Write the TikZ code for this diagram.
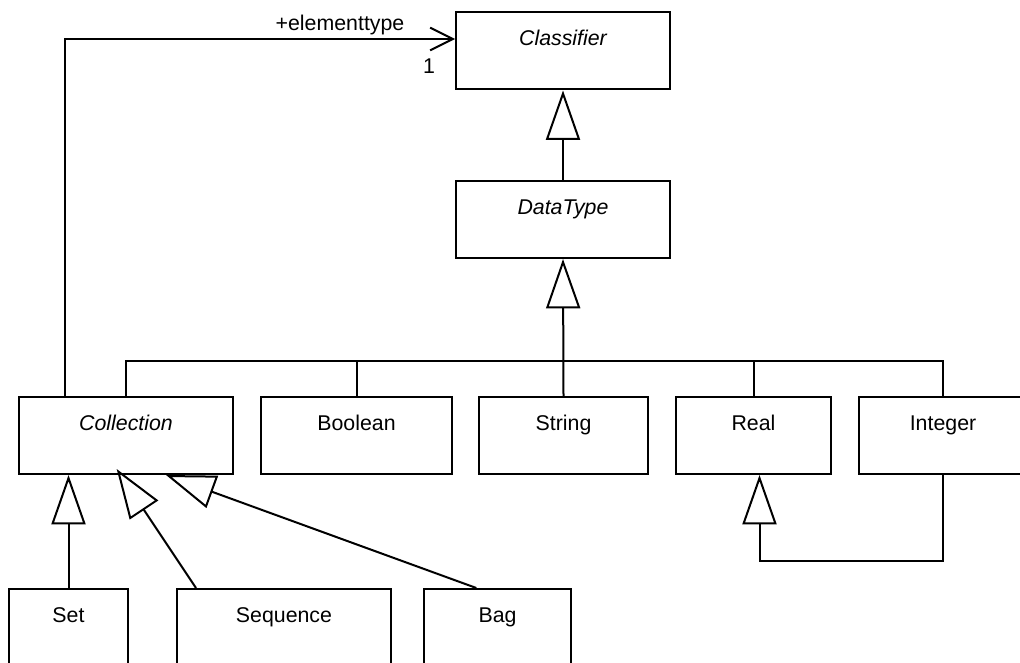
\documentclass[tikz,border=0pt]{standalone}
\usepackage{fontspec}
\setmainfont{Liberation Sans}
\usetikzlibrary{arrows.meta}
\begin{document}
\begin{tikzpicture}[x=0.75pt,y=-0.75pt,
  line width=1.5pt,
  umlclass/.style={draw, rectangle, line width=1.5pt, inner sep=0pt,
    minimum height=57.75pt, text height=12pt, text depth=20.25pt,
    font=\fontsize{16}{19}\selectfont},
  abstract/.style={umlclass, font=\fontsize{16}{19}\selectfont\itshape},
  gen/.style={-{Triangle[open, length=37pt, width=25.5pt]}, line join=miter},
  assoc/.style={-{Straight Barb[length=17pt, width=17pt]}},
  rolelabel/.style={anchor=base, inner sep=0pt, font=\fontsize{16}{19}\selectfont}]
\clip (0,0) rectangle (1020,663);

% classes
\node[abstract, minimum width=160.5pt] (Classifier) at (563,51) {Classifier};
\node[abstract, minimum width=160.5pt] (DataType) at (563,219.5) {DataType};
\node[abstract, minimum width=160.5pt] (Collection) at (126,435.5) {Collection};
\node[umlclass, minimum width=143.25pt] (Boolean) at (356.5,435.5) {Boolean};
\node[umlclass, minimum width=126.75pt] (String) at (563.5,435.5) {String};
\node[umlclass, minimum width=116.25pt] (Real) at (753.5,435.5) {Real};
\node[umlclass, minimum width=126pt] (Integer) at (943,435.5) {Integer};
\node[umlclass, minimum width=89.25pt] (Set) at (68.5,627.5) {Set};
\node[umlclass, minimum width=160.5pt] (Sequence) at (284,627.5) {Sequence};
\node[umlclass, minimum width=110.25pt] (Bag) at (497.5,627.5) {Bag};

% generalisations
\draw[gen] (DataType.north) -- (Classifier.south);
\draw[gen] (String.north) -- (DataType.south);
\coordinate (busR) at (943,361);
\draw (Collection.north) |- (busR) -- (Integer.north);
\draw (Boolean.north) -- (Boolean.north |- busR);
\draw (Real.north) -- (Real.north |- busR);

\draw[gen] (Integer.south) -- ++(0,86) -| ([xshift=4.5pt]Real.south);

\draw[gen] (Set.north) -- (Set.north |- Collection.south);
\draw[gen] ([xshift=15pt]Sequence.north west) -- ([xshift=-7pt,yshift=4.5pt]Collection.south);
\draw[gen] ([xshift=40pt]Bag.north west) -- ([xshift=30pt]Collection.south);

% association
\draw[assoc] ([xshift=-45.75pt]Collection.north) |- ([yshift=9pt]Classifier.west);
\node[rolelabel] (role) at (340,31) {+elementtype};
\node[rolelabel] (mult) at (429,74) {1};
\end{tikzpicture}
\end{document}
